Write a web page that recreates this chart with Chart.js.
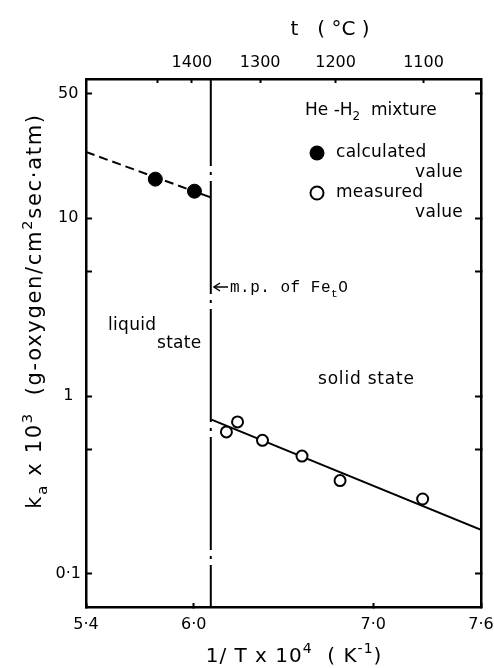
<!DOCTYPE html>
<html><head><meta charset="utf-8">
<script src="https://cdn.jsdelivr.net/npm/chart.js@4/dist/chart.umd.min.js"></script>
<style>html,body{margin:0;padding:0;background:#fff;}canvas{display:block;}</style>
</head><body>
<canvas id="c" width="494" height="668"></canvas>
<script>
// ---- data ----
const xRange = [5.4, 7.6];
const yRange = [0.0652, 60.7];
const xTickValues = [5.4, 6.0, 7.0, 7.6];
const xTickLabels = ['5·4', '6·0', '7·0', '7·6'];
const topTickValues = [5.80, 5.99, 6.37, 6.79, 7.28];
const topTickLabels = ['', '1400', '1300', '1200', '1100'];
const yTickValues = [0.1, 0.5, 1, 5, 10, 50];
const yTickLabels = ['0·1', '', '1', '', '10', '50'];

const calcX = [5.786, 6.004];
const calcY = [16.6, 14.2];
const measX = [6.182, 6.244, 6.383, 6.603, 6.815, 7.275];
const measY = [0.629, 0.716, 0.564, 0.460, 0.335, 0.264];
const liquidLineX = [5.40, 6.00, 6.095];
const liquidLineY = [23.6, 14.2, 13.1];
const solidLineX = [6.099, 7.60];
const solidLineY = [0.738, 0.177];
const meltX = [6.095, 6.095];
const meltY = [60.7, 0.0652];

const pts = (xs, ys) => xs.map((x, i) => ({x: x, y: ys[i]}));
const SANS = 'DejaVu Sans';
const MONO = 'Liberation Mono';

function rich(c, parts, x, y, size, family, align, spacing) {
  c.letterSpacing = (spacing || 0) + 'px';
  const widths = parts.map(p => {
    const s = p[1] ? size * 0.7 : size;
    c.font = s + 'px "' + family + '"';
    return c.measureText(p[0]).width;
  });
  const total = widths.reduce((a, b) => a + b, 0);
  let cx = align === 'center' ? x - total / 2 : (align === 'right' ? x - total : x);
  c.textAlign = 'left';
  c.textBaseline = 'alphabetic';
  parts.forEach((p, i) => {
    const s = p[1] ? size * 0.7 : size;
    c.font = s + 'px "' + family + '"';
    let dy = 0;
    if (p[1] === 'sup') dy = -size * 0.45;
    if (p[1] === 'sub') dy = size * 0.3;
    c.fillText(p[0], cx, y + dy);
    cx += widths[i];
  });
  c.letterSpacing = '0px';
}

const annot = {
  id: 'annot',
  afterDraw(chart) {
    const c = chart.ctx;
    c.save();
    c.fillStyle = '#000';
    c.strokeStyle = '#000';
    // axis titles
    rich(c, [['t   ( °C )', '']], 330, 35, 20, SANS, 'center', 0);
    rich(c, [['1/ T x 10', ''], ['4', 'sup'], ['  ( K', ''], ['-1', 'sup'], [')', '']], 294, 662, 20, SANS, 'center', 1);
    c.save();
    c.translate(41, 311);
    c.rotate(-Math.PI / 2);
    rich(c, [['k', ''], ['a', 'sub'], [' x 10', ''], ['3', 'sup'], ['  (g-oxygen/cm', ''], ['2', 'sup'], ['sec·atm)', '']], 0, 0, 21, SANS, 'center', 1.7);
    c.restore();
    // legend
    rich(c, [['He -H', ''], ['2', 'sub'], ['  mixture', '']], 305, 115, 17, SANS, 'left', 0);
    c.beginPath(); c.arc(317, 153, 7.5, 0, Math.PI * 2); c.fill();
    c.lineWidth = 2;
    c.beginPath(); c.arc(317, 193, 6.5, 0, Math.PI * 2); c.stroke();
    rich(c, [['calculated', '']], 336, 157, 17, SANS, 'left', 0.3);
    rich(c, [['value', '']], 463, 177, 17, SANS, 'right', 0.3);
    rich(c, [['measured', '']], 336, 197, 17, SANS, 'left', 0.3);
    rich(c, [['value', '']], 463, 217, 17, SANS, 'right', 0.3);
    // region labels
    rich(c, [['liquid', '']], 108, 330, 17, SANS, 'left', 0.3);
    rich(c, [['state', '']], 157, 348, 17, SANS, 'left', 0.3);
    rich(c, [['solid state', '']], 318, 384, 17, SANS, 'left', 0.8);
    // melting point note
    c.lineWidth = 1.5;
    c.beginPath(); c.moveTo(228, 287); c.lineTo(214, 287); c.stroke();
    c.beginPath(); c.moveTo(220, 283); c.lineTo(214, 287); c.lineTo(220, 291); c.stroke();
    rich(c, [['m.p. of Fe', ''], ['t', 'sub'], ['O', '']], 230, 292, 16, MONO, 'left', 0.5);
    c.restore();
  }
};

const tickFont = {family: SANS, size: 16};
const gridOpts = len => ({drawOnChartArea: false, drawTicks: true, tickLength: len, tickWidth: 2, color: '#000', tickColor: '#000'});
const borderOpts = {display: true, color: '#000', width: 2.5};
const noPad = s => { s.paddingLeft = 0; s.paddingRight = 0; s.paddingTop = 0; s.paddingBottom = 0; };

new Chart(document.getElementById('c').getContext('2d'), {
  type: 'scatter',
  data: {
    datasets: [
      {data: pts(calcX, calcY), pointRadius: 7, pointBackgroundColor: '#000', pointBorderColor: '#000', showLine: false},
      {data: pts(measX, measY), pointRadius: 5.5, pointBackgroundColor: '#fff', pointBorderColor: '#000', pointBorderWidth: 2, showLine: false},
      {data: pts(liquidLineX, liquidLineY), showLine: true, pointRadius: 0, borderColor: '#000', borderWidth: 2,
        segment: {borderDash: ctx => ctx.p0DataIndex === 0 ? [9, 5] : undefined}},
      {data: pts(solidLineX, solidLineY), showLine: true, pointRadius: 0, borderColor: '#000', borderWidth: 2},
      {data: pts(meltX, meltY), showLine: true, pointRadius: 0, borderColor: '#000', borderWidth: 2,
        borderDash: [113, 6, 3, 6], borderDashOffset: 26}
    ]
  },
  options: {
    responsive: false,
    animation: false,
    events: [],
    layout: {padding: 0, autoPadding: false},
    plugins: {legend: {display: false}, tooltip: {enabled: false}},
    scales: {
      x: {
        type: 'linear', position: 'bottom', min: xRange[0], max: xRange[1], bounds: 'data',
        afterBuildTicks: s => { s.ticks = xTickValues.map(v => ({value: v})); },
        afterFit: s => { s.height = 61; noPad(s); },
        ticks: {autoSkip: false, maxRotation: 0, padding: 12, color: '#000', font: tickFont,
          callback: v => xTickLabels[xTickValues.indexOf(v)]},
        grid: gridOpts(-4), border: borderOpts
      },
      x2: {
        type: 'linear', position: 'top', min: xRange[0], max: xRange[1], bounds: 'data',
        afterBuildTicks: s => { s.ticks = topTickValues.map(v => ({value: v})); },
        afterFit: s => { s.height = 79; noPad(s); },
        ticks: {autoSkip: false, maxRotation: 0, padding: 11, color: '#000', font: tickFont,
          callback: v => topTickLabels[topTickValues.indexOf(v)]},
        grid: gridOpts(-4), border: borderOpts
      },
      y: {
        type: 'logarithmic', position: 'left', min: yRange[0], max: yRange[1], bounds: 'data',
        afterBuildTicks: s => { s.ticks = yTickValues.map(v => ({value: v})); },
        afterFit: s => { s.width = 86; noPad(s); },
        ticks: {autoSkip: false, padding: 11, crossAlign: 'center', color: '#000', font: tickFont,
          callback: v => yTickLabels[yTickValues.indexOf(v)]},
        grid: gridOpts(-6), border: borderOpts
      },
      y2: {
        type: 'logarithmic', position: 'right', min: yRange[0], max: yRange[1], bounds: 'data',
        afterBuildTicks: s => { s.ticks = yTickValues.map(v => ({value: v})); },
        afterFit: s => { s.width = 13; noPad(s); },
        ticks: {autoSkip: false, padding: 0, font: tickFont, callback: () => ''},
        grid: gridOpts(-6), border: borderOpts
      }
    }
  },
  plugins: [annot]
});
</script>
</body></html>
